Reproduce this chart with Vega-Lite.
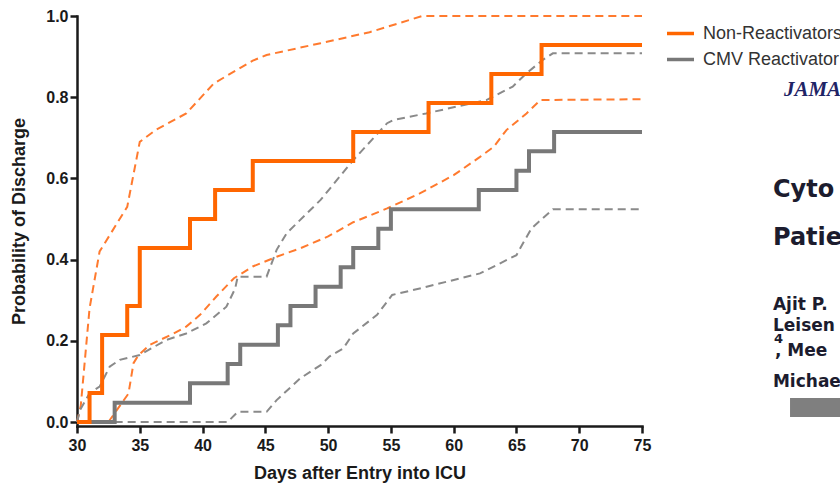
{
  "$schema": "https://vega.github.io/schema/vega-lite/v6.json",
  "width": 565,
  "height": 410,
  "autosize": "none",
  "padding": {"left": 77, "top": 16, "right": 198, "bottom": 59},
  "background": "white",
  "config": {"view": {"stroke": null}, "font": "Liberation Sans"},
  "datasets": {
    "km": [
      {"group": "CMV Reactivator", "kind": "estimate", "day": 30, "prob": 0},
      {"group": "CMV Reactivator", "kind": "estimate", "day": 33, "prob": 0.0476},
      {"group": "CMV Reactivator", "kind": "estimate", "day": 39, "prob": 0.0952},
      {"group": "CMV Reactivator", "kind": "estimate", "day": 42, "prob": 0.1429},
      {"group": "CMV Reactivator", "kind": "estimate", "day": 43, "prob": 0.1905},
      {"group": "CMV Reactivator", "kind": "estimate", "day": 46, "prob": 0.2381},
      {"group": "CMV Reactivator", "kind": "estimate", "day": 47, "prob": 0.2857},
      {"group": "CMV Reactivator", "kind": "estimate", "day": 49, "prob": 0.3333},
      {"group": "CMV Reactivator", "kind": "estimate", "day": 51, "prob": 0.381},
      {"group": "CMV Reactivator", "kind": "estimate", "day": 52, "prob": 0.4286},
      {"group": "CMV Reactivator", "kind": "estimate", "day": 54, "prob": 0.4762},
      {"group": "CMV Reactivator", "kind": "estimate", "day": 55, "prob": 0.5238},
      {"group": "CMV Reactivator", "kind": "estimate", "day": 62, "prob": 0.5714},
      {"group": "CMV Reactivator", "kind": "estimate", "day": 65, "prob": 0.619},
      {"group": "CMV Reactivator", "kind": "estimate", "day": 66, "prob": 0.6667},
      {"group": "CMV Reactivator", "kind": "estimate", "day": 68, "prob": 0.7143},
      {"group": "CMV Reactivator", "kind": "estimate", "day": 75, "prob": 0.7143},
      {"group": "Non-Reactivators", "kind": "estimate", "day": 30, "prob": 0},
      {"group": "Non-Reactivators", "kind": "estimate", "day": 31, "prob": 0.0714},
      {"group": "Non-Reactivators", "kind": "estimate", "day": 32, "prob": 0.2143},
      {"group": "Non-Reactivators", "kind": "estimate", "day": 34, "prob": 0.2857},
      {"group": "Non-Reactivators", "kind": "estimate", "day": 35, "prob": 0.4286},
      {"group": "Non-Reactivators", "kind": "estimate", "day": 39, "prob": 0.5},
      {"group": "Non-Reactivators", "kind": "estimate", "day": 41, "prob": 0.5714},
      {"group": "Non-Reactivators", "kind": "estimate", "day": 44, "prob": 0.6429},
      {"group": "Non-Reactivators", "kind": "estimate", "day": 52, "prob": 0.7143},
      {"group": "Non-Reactivators", "kind": "estimate", "day": 58, "prob": 0.7857},
      {"group": "Non-Reactivators", "kind": "estimate", "day": 63, "prob": 0.8571},
      {"group": "Non-Reactivators", "kind": "estimate", "day": 67, "prob": 0.9286},
      {"group": "Non-Reactivators", "kind": "estimate", "day": 75, "prob": 0.9286},
      {"group": "Non-Reactivators", "kind": "upper", "day": 30, "prob": 0},
      {"group": "Non-Reactivators", "kind": "upper", "day": 30.3, "prob": 0.04},
      {"group": "Non-Reactivators", "kind": "upper", "day": 31, "prob": 0.28},
      {"group": "Non-Reactivators", "kind": "upper", "day": 31.8, "prob": 0.42},
      {"group": "Non-Reactivators", "kind": "upper", "day": 34, "prob": 0.53},
      {"group": "Non-Reactivators", "kind": "upper", "day": 35, "prob": 0.69},
      {"group": "Non-Reactivators", "kind": "upper", "day": 36.3, "prob": 0.72},
      {"group": "Non-Reactivators", "kind": "upper", "day": 38.7, "prob": 0.76},
      {"group": "Non-Reactivators", "kind": "upper", "day": 40.9, "prob": 0.834},
      {"group": "Non-Reactivators", "kind": "upper", "day": 44, "prob": 0.89},
      {"group": "Non-Reactivators", "kind": "upper", "day": 45.1, "prob": 0.904},
      {"group": "Non-Reactivators", "kind": "upper", "day": 49.4, "prob": 0.933},
      {"group": "Non-Reactivators", "kind": "upper", "day": 53.3, "prob": 0.96},
      {"group": "Non-Reactivators", "kind": "upper", "day": 57.5, "prob": 1.0},
      {"group": "Non-Reactivators", "kind": "upper", "day": 75, "prob": 1.0},
      {"group": "Non-Reactivators", "kind": "lower", "day": 32.5, "prob": 0},
      {"group": "Non-Reactivators", "kind": "lower", "day": 34.1, "prob": 0.07},
      {"group": "Non-Reactivators", "kind": "lower", "day": 34.5, "prob": 0.145},
      {"group": "Non-Reactivators", "kind": "lower", "day": 34.9, "prob": 0.165},
      {"group": "Non-Reactivators", "kind": "lower", "day": 35.8, "prob": 0.19},
      {"group": "Non-Reactivators", "kind": "lower", "day": 37.7, "prob": 0.218},
      {"group": "Non-Reactivators", "kind": "lower", "day": 38.7, "prob": 0.235},
      {"group": "Non-Reactivators", "kind": "lower", "day": 39.8, "prob": 0.264},
      {"group": "Non-Reactivators", "kind": "lower", "day": 41.1, "prob": 0.309},
      {"group": "Non-Reactivators", "kind": "lower", "day": 42.5, "prob": 0.354},
      {"group": "Non-Reactivators", "kind": "lower", "day": 44, "prob": 0.383},
      {"group": "Non-Reactivators", "kind": "lower", "day": 45.9, "prob": 0.407},
      {"group": "Non-Reactivators", "kind": "lower", "day": 47.8, "prob": 0.428},
      {"group": "Non-Reactivators", "kind": "lower", "day": 50, "prob": 0.457},
      {"group": "Non-Reactivators", "kind": "lower", "day": 52, "prob": 0.492},
      {"group": "Non-Reactivators", "kind": "lower", "day": 54.7, "prob": 0.526},
      {"group": "Non-Reactivators", "kind": "lower", "day": 57.3, "prob": 0.563},
      {"group": "Non-Reactivators", "kind": "lower", "day": 60, "prob": 0.608},
      {"group": "Non-Reactivators", "kind": "lower", "day": 62.1, "prob": 0.653},
      {"group": "Non-Reactivators", "kind": "lower", "day": 63.2, "prob": 0.678},
      {"group": "Non-Reactivators", "kind": "lower", "day": 64.2, "prob": 0.719},
      {"group": "Non-Reactivators", "kind": "lower", "day": 65.8, "prob": 0.76},
      {"group": "Non-Reactivators", "kind": "lower", "day": 66.9, "prob": 0.793},
      {"group": "Non-Reactivators", "kind": "lower", "day": 75, "prob": 0.795},
      {"group": "CMV Reactivator", "kind": "upper", "day": 30, "prob": 0},
      {"group": "CMV Reactivator", "kind": "upper", "day": 30.25, "prob": 0.03},
      {"group": "CMV Reactivator", "kind": "upper", "day": 31, "prob": 0.071},
      {"group": "CMV Reactivator", "kind": "upper", "day": 31.8, "prob": 0.087},
      {"group": "CMV Reactivator", "kind": "upper", "day": 32.6, "prob": 0.136},
      {"group": "CMV Reactivator", "kind": "upper", "day": 33.4, "prob": 0.153},
      {"group": "CMV Reactivator", "kind": "upper", "day": 35, "prob": 0.165},
      {"group": "CMV Reactivator", "kind": "upper", "day": 37.1, "prob": 0.202},
      {"group": "CMV Reactivator", "kind": "upper", "day": 38.7, "prob": 0.218},
      {"group": "CMV Reactivator", "kind": "upper", "day": 40.3, "prob": 0.243},
      {"group": "CMV Reactivator", "kind": "upper", "day": 41.9, "prob": 0.284},
      {"group": "CMV Reactivator", "kind": "upper", "day": 42.6, "prob": 0.329},
      {"group": "CMV Reactivator", "kind": "upper", "day": 42.8, "prob": 0.358},
      {"group": "CMV Reactivator", "kind": "upper", "day": 45.1, "prob": 0.358},
      {"group": "CMV Reactivator", "kind": "upper", "day": 45.9, "prob": 0.424},
      {"group": "CMV Reactivator", "kind": "upper", "day": 46.7, "prob": 0.465},
      {"group": "CMV Reactivator", "kind": "upper", "day": 49.4, "prob": 0.547},
      {"group": "CMV Reactivator", "kind": "upper", "day": 52, "prob": 0.645},
      {"group": "CMV Reactivator", "kind": "upper", "day": 54.7, "prob": 0.736},
      {"group": "CMV Reactivator", "kind": "upper", "day": 55.2, "prob": 0.744},
      {"group": "CMV Reactivator", "kind": "upper", "day": 57.8, "prob": 0.76},
      {"group": "CMV Reactivator", "kind": "upper", "day": 62.6, "prob": 0.793},
      {"group": "CMV Reactivator", "kind": "upper", "day": 64.7, "prob": 0.826},
      {"group": "CMV Reactivator", "kind": "upper", "day": 65.8, "prob": 0.859},
      {"group": "CMV Reactivator", "kind": "upper", "day": 67.1, "prob": 0.892},
      {"group": "CMV Reactivator", "kind": "upper", "day": 67.9, "prob": 0.908},
      {"group": "CMV Reactivator", "kind": "upper", "day": 75, "prob": 0.908},
      {"group": "CMV Reactivator", "kind": "lower", "day": 33, "prob": 0},
      {"group": "CMV Reactivator", "kind": "lower", "day": 42, "prob": 0},
      {"group": "CMV Reactivator", "kind": "lower", "day": 42.8, "prob": 0.025},
      {"group": "CMV Reactivator", "kind": "lower", "day": 45.1, "prob": 0.025},
      {"group": "CMV Reactivator", "kind": "lower", "day": 45.9, "prob": 0.054},
      {"group": "CMV Reactivator", "kind": "lower", "day": 47.8, "prob": 0.108},
      {"group": "CMV Reactivator", "kind": "lower", "day": 49.4, "prob": 0.14},
      {"group": "CMV Reactivator", "kind": "lower", "day": 50.1, "prob": 0.161},
      {"group": "CMV Reactivator", "kind": "lower", "day": 51.2, "prob": 0.181},
      {"group": "CMV Reactivator", "kind": "lower", "day": 52, "prob": 0.218},
      {"group": "CMV Reactivator", "kind": "lower", "day": 53.9, "prob": 0.264},
      {"group": "CMV Reactivator", "kind": "lower", "day": 55.1, "prob": 0.313},
      {"group": "CMV Reactivator", "kind": "lower", "day": 57.3, "prob": 0.329},
      {"group": "CMV Reactivator", "kind": "lower", "day": 62.1, "prob": 0.366},
      {"group": "CMV Reactivator", "kind": "lower", "day": 65, "prob": 0.411},
      {"group": "CMV Reactivator", "kind": "lower", "day": 65.3, "prob": 0.428},
      {"group": "CMV Reactivator", "kind": "lower", "day": 66.2, "prob": 0.477},
      {"group": "CMV Reactivator", "kind": "lower", "day": 67.9, "prob": 0.524},
      {"group": "CMV Reactivator", "kind": "lower", "day": 75, "prob": 0.524}
    ],
    "headline": [
      {"text": "Cyto", "day": 85.43, "prob": 0.554},
      {"text": "Patie", "day": 85.43, "prob": 0.436}
    ],
    "authors": [
      {"text": "Ajit P.", "day": 85.43, "prob": 0.276},
      {"text": "Leisen", "day": 85.43, "prob": 0.223},
      {"text": ", Mee", "day": 85.59, "prob": 0.163},
      {"text": "Michae", "day": 85.43, "prob": 0.086}
    ],
    "superscript": [
      {"text": "4", "day": 85.51, "prob": 0.194}
    ],
    "journal": [
      {"text": "JAMA", "day": 86.3, "prob": 0.803}
    ],
    "banner": [
      {"day": 86.79, "day2": 92, "prob": 0.059, "prob2": 0.0123}
    ]
  },
  "encoding": {
    "x": {
      "field": "day", "type": "quantitative",
      "scale": {"domain": [30, 75], "nice": false, "zero": false},
      "axis": {
        "values": [30, 35, 40, 45, 50, 55, 60, 65, 70, 75],
        "title": "Days after Entry into ICU",
        "grid": false, "labelFlush": false, "labelOverlap": false,
        "domainColor": "#1a1a1a", "domainWidth": 2.5, "domainCap": "square",
        "tickColor": "#1a1a1a", "tickWidth": 2.5, "tickSize": 7,
        "labelFont": "Liberation Sans", "labelFontSize": 16, "labelFontWeight": "bold", "labelColor": "#1a1a1a", "labelPadding": 4,
        "titleFont": "Liberation Sans", "titleFontSize": 18, "titleFontWeight": "bold", "titleColor": "#1a1a1a", "titlePadding": 11
      }
    },
    "y": {
      "field": "prob", "type": "quantitative",
      "scale": {"domain": [-0.00985, 1], "nice": false, "zero": false},
      "axis": {
        "values": [0, 0.2, 0.4, 0.6, 0.8, 1.0],
        "format": ".1f",
        "title": "Probability of Discharge",
        "grid": false, "labelFlush": false, "labelOverlap": false,
        "domainColor": "#1a1a1a", "domainWidth": 2.5, "domainCap": "square",
        "tickColor": "#1a1a1a", "tickWidth": 2.5, "tickSize": 7,
        "labelFont": "Liberation Sans", "labelFontSize": 16, "labelFontWeight": "bold", "labelColor": "#1a1a1a", "labelPadding": 2,
        "titleFont": "Liberation Sans", "titleFontSize": 18, "titleFontWeight": "bold", "titleColor": "#1a1a1a", "titlePadding": 17
      }
    }
  },
  "layer": [
    {
      "data": {"name": "km"},
      "transform": [{"filter": "datum.kind !== 'estimate'"}],
      "mark": {"type": "line", "strokeDash": [8, 5], "strokeWidth": 2, "interpolate": "linear"},
      "encoding": {
        "color": {"field": "group", "type": "nominal", "legend": null,
          "scale": {"domain": ["Non-Reactivators", "CMV Reactivator"], "range": ["#ff7a2e", "#8a8a8a"]}},
        "detail": {"field": "kind"}
      }
    },
    {
      "data": {"name": "km"},
      "transform": [{"filter": "datum.kind === 'estimate'"}],
      "mark": {"type": "line", "strokeWidth": 4, "interpolate": "step-after"},
      "encoding": {
        "color": {"field": "group", "type": "nominal",
          "scale": {"domain": ["Non-Reactivators", "CMV Reactivator"], "range": ["#ff6600", "#787878"]},
          "legend": {
            "title": null, "orient": "none", "legendX": 588, "legendY": 2,
            "symbolType": "stroke", "symbolStrokeWidth": 3.5, "symbolSize": 729,
            "labelFont": "Liberation Sans", "labelFontSize": 18, "labelColor": "#333333",
            "labelOffset": 7, "rowPadding": 1, "labelLimit": 400
          }
        }
      }
    },
    {
      "data": {"name": "headline"},
      "mark": {"type": "text", "align": "left", "baseline": "alphabetic", "font": "DejaVu Sans", "fontWeight": "bold", "fontSize": 24, "color": "#1c1c2e"},
      "encoding": {"text": {"field": "text"}}
    },
    {
      "data": {"name": "authors"},
      "mark": {"type": "text", "align": "left", "baseline": "alphabetic", "font": "DejaVu Sans", "fontWeight": "bold", "fontSize": 17, "color": "#1c1c2e"},
      "encoding": {"text": {"field": "text"}}
    },
    {
      "data": {"name": "superscript"},
      "mark": {"type": "text", "align": "left", "baseline": "alphabetic", "font": "DejaVu Sans", "fontWeight": "bold", "fontSize": 13, "color": "#1c1c2e"},
      "encoding": {"text": {"field": "text"}}
    },
    {
      "data": {"name": "journal"},
      "mark": {"type": "text", "align": "left", "baseline": "alphabetic", "font": "Liberation Serif", "fontStyle": "italic", "fontWeight": "bold", "fontSize": 21, "color": "#1f2466"},
      "encoding": {"text": {"field": "text"}}
    },
    {
      "data": {"name": "banner"},
      "mark": {"type": "rect", "color": "#7f7f7f"},
      "encoding": {"x2": {"field": "day2"}, "y2": {"field": "prob2"}}
    }
  ],
  "resolve": {"scale": {"color": "independent"}}
}
